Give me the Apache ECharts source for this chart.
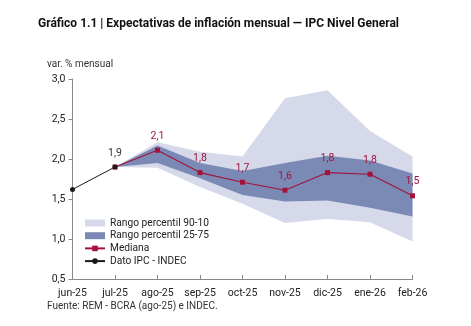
<!DOCTYPE html>
<html>
<head>
<meta charset="utf-8">
<script src="https://cdn.jsdelivr.net/npm/echarts@6/dist/echarts.min.js"></script>
<style>html,body{margin:0;padding:0;background:#fff;}#c{width:471px;height:326px;}</style>
</head>
<body>
<div id="c"></div>
<script>
const categories = ['jun-25','jul-25','ago-25','sep-25','oct-25','nov-25','dic-25','ene-26','feb-26'];
const ipc = [1.62, 1.9, null, null, null, null, null, null, null];
const mediana = [null, 1.9, 2.11, 1.83, 1.71, 1.61, 1.83, 1.81, 1.54];
const p10 = [null, 1.9, 1.89, 1.65, 1.44, 1.2, 1.25, 1.21, 0.97];
const p90 = [null, 1.9, 2.21, 2.09, 2.03, 2.76, 2.86, 2.35, 2.03];
const p25 = [null, 1.9, 1.95, 1.76, 1.55, 1.47, 1.48, 1.39, 1.28];
const p75 = [null, 1.9, 2.17, 1.95, 1.85, 1.95, 2.04, 1.98, 1.82];
const yTicks = [0.5, 1.0, 1.5, 2.0, 2.5, 3.0];

const diff = (a, b) => a.map((v, i) => (v == null || b[i] == null) ? null : +(v - b[i]).toFixed(3));
const fmt = v => v.toFixed(1).replace('.', ',');
const FONT = 'Roboto';
const LIGHT = '#d5d9ea', DARK = '#7b8ab5', RED = '#a3123a', BLACK = '#1a1a1a';

const chart = echarts.init(document.getElementById('c'));
chart.setOption({
  animation: false,
  textStyle: { fontFamily: FONT },
  title: {
    text: 'Gráfico 1.1 | Expectativas de inflación mensual — IPC Nivel General',
    left: 33, top: 13,
    textStyle: { fontFamily: FONT, fontSize: 12, fontWeight: 'bold', color: '#111' }
  },
  graphic: [
    { type: 'text', left: 47, top: 59, style: { text: 'var. % mensual', font: '10px Roboto', fill: '#333' } },
    { type: 'text', left: 47, top: 301, style: { text: 'Fuente: REM - BCRA (ago-25) e INDEC.', font: '10px Roboto', fill: '#333' } }
  ],
  legend: {
    orient: 'vertical', left: 79, top: 213,
    itemWidth: 20, itemHeight: 7, itemGap: 2.7,
    textStyle: { fontFamily: FONT, fontSize: 10.2, color: '#222' },
    data: [
      { name: 'Rango percentil 90-10', icon: 'rect' },
      { name: 'Rango percentil 25-75', icon: 'rect' },
      { name: 'Mediana' },
      { name: 'Dato IPC - INDEC' }
    ]
  },
  grid: { left: 72.5, right: 58.5, top: 79, bottom: 47 },
  xAxis: {
    type: 'category', data: categories, boundaryGap: false,
    axisLine: { lineStyle: { color: '#888', width: 1 } },
    axisTick: { inside: true, length: 4, lineStyle: { color: '#888' } },
    axisLabel: { color: '#222', fontSize: 10.5, margin: 9, fontFamily: FONT },
    splitLine: { show: false }
  },
  yAxis: {
    type: 'value', min: yTicks[0], max: yTicks[yTicks.length - 1], interval: 0.5,
    axisLine: { show: true, lineStyle: { color: '#888', width: 1 } },
    axisTick: { show: true, inside: false, length: 4, lineStyle: { color: '#888' } },
    axisLabel: { color: '#222', fontSize: 10.5, margin: 7, formatter: fmt, fontFamily: FONT },
    splitLine: { show: false }
  },
  series: [
    { name: 'base90', type: 'line', stack: 'a', data: p10, symbol: 'none', lineStyle: { opacity: 0 }, silent: true },
    { name: 'Rango percentil 90-10', type: 'line', stack: 'a', data: diff(p90, p10), symbol: 'none',
      lineStyle: { opacity: 0 }, areaStyle: { color: LIGHT, opacity: 1 }, itemStyle: { color: LIGHT } },
    { name: 'base25', type: 'line', stack: 'b', data: p25, symbol: 'none', lineStyle: { opacity: 0 }, silent: true },
    { name: 'Rango percentil 25-75', type: 'line', stack: 'b', data: diff(p75, p25), symbol: 'none',
      lineStyle: { opacity: 0 }, areaStyle: { color: DARK, opacity: 1 }, itemStyle: { color: DARK } },
    { name: 'Mediana', type: 'line', data: mediana, symbol: 'rect', symbolSize: 5,
      lineStyle: { color: RED, width: 1.1 }, itemStyle: { color: RED },
      label: { show: true, position: 'top', distance: 6, color: RED, fontSize: 10.5, fontFamily: FONT,
        formatter: p => p.dataIndex >= 2 ? fmt(p.value) : '' } },
    { name: 'Dato IPC - INDEC', type: 'line', data: ipc, symbol: 'circle', symbolSize: 5,
      lineStyle: { color: BLACK, width: 1 }, itemStyle: { color: BLACK },
      label: { show: true, position: 'top', distance: 6, color: '#333', fontSize: 10.5, fontFamily: FONT,
        formatter: p => p.dataIndex === 1 ? fmt(p.value) : '' } }
  ]
});
</script>
</body>
</html>
